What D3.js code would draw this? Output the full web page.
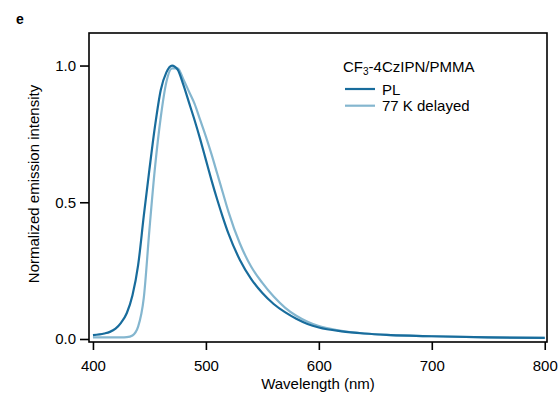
<!DOCTYPE html>
<html>
<head>
<style>
  body { margin: 0; background: #fff; }
  text { font-family: "Liberation Sans", Arial, sans-serif; fill: #000; }
</style>
<script src="https://d3js.org/d3.v7.min.js"></script>
</head>
<body>
<svg width="560" height="396"></svg>
<script>
// wavelength (nm)
var wavelength = [400,410,415,420,425,430,435,440,445,450,455,460,465,470,475,480,485,490,495,500,505,510,515,520,530,540,550,560,570,580,590,600,620,640,660,680,700,750,800];
// PL, normalized
var pl = [0.014,0.02,0.026,0.038,0.06,0.095,0.16,0.27,0.45,0.62,0.78,0.91,0.975,1.0,0.985,0.93,0.865,0.80,0.73,0.655,0.58,0.51,0.445,0.385,0.29,0.22,0.168,0.128,0.098,0.074,0.055,0.042,0.028,0.02,0.015,0.012,0.01,0.006,0.004];
// 77 K delayed, normalized
var delayed = [0.006,0.006,0.006,0.006,0.006,0.007,0.013,0.045,0.15,0.40,0.63,0.81,0.94,0.99,0.99,0.95,0.905,0.86,0.80,0.74,0.675,0.605,0.535,0.465,0.35,0.265,0.205,0.155,0.115,0.085,0.063,0.047,0.03,0.02,0.015,0.012,0.01,0.006,0.004];
var xTicks = [400,500,600,700,800];
var yTicks = [0,0.5,1.0];

var svg = d3.select("svg");
var plotL = 89, plotR = 547, plotT = 33, plotB = 342;

var x = d3.scaleLinear().domain([396.5, 802]).range([plotL, plotR]);
var y = d3.scaleLinear().domain([-0.011, 1.119]).range([plotB, plotT]);

svg.append("text").attr("x", 16).attr("y", 24)
  .style("font-size", "14px").style("font-weight", "bold").text("e");

// frame
svg.append("rect").attr("x", plotL).attr("y", plotT)
  .attr("width", plotR - plotL).attr("height", plotB - plotT)
  .attr("fill", "none").attr("stroke", "#000").attr("stroke-width", 1.6);

var xa = svg.append("g").attr("transform", "translate(0," + plotB + ")")
  .call(d3.axisBottom(x).tickValues(xTicks).tickSize(8).tickPadding(10).tickFormat(d3.format("d")));
var ya = svg.append("g").attr("transform", "translate(" + plotL + ",0)")
  .call(d3.axisLeft(y).tickValues(yTicks).tickSize(9).tickPadding(4).tickFormat(d3.format(".1f")));
[xa, ya].forEach(function (a) {
  a.select(".domain").remove();
  a.selectAll(".tick line").attr("stroke", "#000").attr("stroke-width", 1.6);
  a.selectAll(".tick text").style("font-size", "15px").attr("font-family", null);
});

svg.append("text").attr("x", 318).attr("y", 389)
  .attr("text-anchor", "middle").style("font-size", "15px").text("Wavelength (nm)");
svg.append("text").attr("transform", "translate(39," + 184 + ") rotate(-90)")
  .attr("text-anchor", "middle").style("font-size", "15px").text("Normalized emission intensity");

var line = d3.line().curve(d3.curveMonotoneX)
  .x(function (d) { return x(d[0]); })
  .y(function (d) { return y(d[1]); });

var series = [
  { name: "77 K delayed", values: delayed, color: "#84b6cf" },
  { name: "PL", values: pl, color: "#186c9c" }
];
series.forEach(function (s) {
  svg.append("path")
    .datum(wavelength.map(function (w, i) { return [w, s.values[i]]; }))
    .attr("d", line).attr("fill", "none")
    .attr("stroke", s.color).attr("stroke-width", 2.2);
});

// legend
var lg = svg.append("g");
var title = lg.append("text").attr("x", 343).attr("y", 72).style("font-size", "15px");
title.append("tspan").text("CF");
title.append("tspan").attr("dy", 3).style("font-size", "10px").text("3");
title.append("tspan").attr("dy", -3).text("-4CzIPN/PMMA");
[series[1], series[0]].forEach(function (s, i) {
  var yy = 89 + i * 16.7;
  lg.append("line").attr("x1", 345).attr("x2", 375).attr("y1", yy).attr("y2", yy)
    .attr("stroke", s.color).attr("stroke-width", 2.2);
  lg.append("text").attr("x", 382).attr("y", yy + 5.5).style("font-size", "15px").text(s.name);
});
</script>
</body>
</html>
